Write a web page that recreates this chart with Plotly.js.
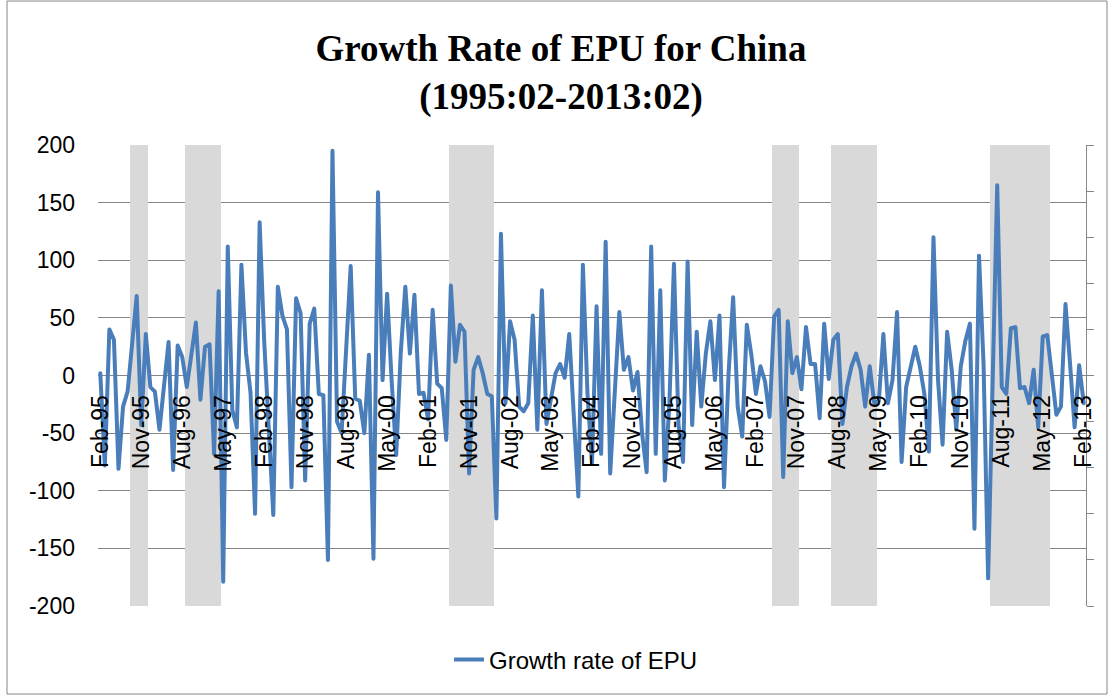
<!DOCTYPE html>
<html><head><meta charset="utf-8">
<script src="https://cdn.plot.ly/plotly-3.0.1.min.js"></script>
<style>
html,body{margin:0;padding:0;background:#fff;}
#chart{width:1110px;height:697px;}
.scatterlayer .js-line{stroke-linejoin:round;stroke-linecap:round;}
</style></head><body><div id="chart"></div>
<script>
// Monthly growth rate of EPU for China, Feb-1995 .. Feb-2013
const epu1995 = [2, -78, 40, 31, -81, -27, -14, 30, 69, -43, 36];            // Feb-Dec
const epu1996 = [-10, -14, -47, -10, 29, -82, 26, 16, -10, 18, 46, -21];
const epu1997 = [25, 27, -68, 73, -179, 112, -30, -45, 96, 20, -15, -120];
const epu1998 = [133, 30, -40, -121, 77, 52, 40, -97, 67, 54, -91, 45];
const epu1999 = [58, -16, -17, -160, 195, -40, -50, 20, 95, -20, -22, -50];
const epu2000 = [18, -159, 159, -4, 71, -5, -69, 20, 77, 19, 70, -16];
const epu2001 = [-15, -38, 57, -7, -11, -56, 78, 12, 44, 38, -85, 5];
const epu2002 = [16, 2, -16, -18, -124, 123, -24, 47, 31, -27, -31, -24];
const epu2003 = [52, -47, 74, -42, -18, 2, 10, -2, 36, -35, -105, 96];
const epu2004 = [-15, -76, 60, -68, 116, -85, -15, 55, 5, 16, -13, 3];
const epu2005 = [-50, -84, 112, -68, 74, -91, -24, 97, -43, -75, 99, -43];
const epu2006 = [38, -27, 19, 47, -4, 52, -97, 2, 68, -27, -53, 44];
const epu2007 = [18, -16, 8, -5, -36, 51, 57, -88, 47, 2, 16, -12];
const epu2008 = [42, 10, 10, -37, 45, -3, 31, 36, -42, -10, 8, 19];
const epu2009 = [5, -27, 8, -24, -22, 36, -24, -4, 55, -75, -10, 8];
const epu2010 = [25, 8, -16, -66, 120, -4, -60, 38, 5, -47, 8, 30];
const epu2011 = [45, -133, 104, 10, -176, -5, 165, -10, -16, 41, 42, -11];
const epu2012 = [-10, -24, 5, -45, 34, 35, 0, -34, -27, 62, 10, -45];
const epu2013 = [9, -24];                                                      // Jan-Feb

const tickLabels = ['Feb-95','Nov-95','Aug-96','May-97','Feb-98','Nov-98','Aug-99','May-00',
  'Feb-01','Nov-01','Aug-02','May-03','Feb-04','Nov-04','Aug-05','May-06','Feb-07','Nov-07',
  'Aug-08','May-09','Feb-10','Nov-10','Aug-11','May-12','Feb-13'];
const yTickVals = [-200, -150, -100, -50, 0, 50, 100, 150, 200];
const yTickText = ['-200', '-150', '-100', '-50', '0', '50', '100', '150', '200'];

// shaded periods (grey columns on the secondary axis)
const shadeStart = ['Sep-95','Sep-96','Jul-01','Jun-07','Jul-08','Jun-11'];
const shadeEnd   = ['Dec-95','Apr-97','Apr-02','Nov-07','Apr-09','Jun-12'];

const monthNames = ['Jan','Feb','Mar','Apr','May','Jun','Jul','Aug','Sep','Oct','Nov','Dec'];
const growth = [].concat(epu1995, epu1996, epu1997, epu1998, epu1999, epu2000, epu2001, epu2002,
  epu2003, epu2004, epu2005, epu2006, epu2007, epu2008, epu2009, epu2010, epu2011, epu2012, epu2013);

const months = growth.map((_, i) => {
  const m = (1 + i) % 12;               // start at Feb (index 1)
  const y = 1995 + Math.floor((1 + i) / 12);
  return monthNames[m] + '-' + String(y % 100).padStart(2, '0');
});
const flags = months.map(() => 0);
shadeStart.forEach((s, k) => {
  const a = months.indexOf(s), b = months.indexOf(shadeEnd[k]);
  for (let i = a; i <= b; i++) flags[i] = 1;
});

const grey = '#868686';
const traces = [
  { type: 'bar', x: months, y: flags, yaxis: 'y', xaxis: 'x',
    marker: { color: '#d9d9d9', line: { width: 0 } }, showlegend: false, hoverinfo: 'skip' },
  { type: 'scatter', mode: 'lines', x: months, y: growth, yaxis: 'y2', xaxis: 'x',
    name: 'Growth rate of EPU', line: { color: '#4a7ebb', width: 4 } }
];

const L = 98, R = 1086, T = 145, B = 606;
const pw = R - L, ph = B - T;
const layout = {
  width: 1110, height: 697,
  margin: { l: L, r: 1110 - R, t: T, b: 697 - B, pad: 0 },
  paper_bgcolor: '#fff', plot_bgcolor: '#fff',
  font: { family: 'Liberation Sans, Arial, sans-serif', color: '#000', size: 23 },
  title: { text: '<b>Growth Rate of EPU for China<br>(1995:02-2013:02)</b>',
    font: { family: 'Liberation Serif, Times New Roman, serif', size: 37, color: '#000' },
    x: 0.5054, xref: 'container', xanchor: 'center', y: 0.913, yref: 'container', yanchor: 'top' },
  bargap: 0,
  xaxis: { type: 'category', categoryorder: 'array', categoryarray: months,
    range: [-0.5, months.length - 0.5], anchor: 'free', position: 0.5,
    tickmode: 'array', tickvals: tickLabels, ticktext: tickLabels, tickangle: -90,
    ticks: '', showgrid: false, showline: false, zeroline: false,
    ticklabelstandoff: 14, tickfont: { size: 23 }, fixedrange: true },
  yaxis: { range: [0, 1], dtick: 0.1, side: 'right', anchor: 'x',
    showticklabels: false, ticks: 'outside', ticklen: 7, tickcolor: grey, tickwidth: 1,
    showline: true, linecolor: grey, linewidth: 1, showgrid: false, zeroline: false, fixedrange: true },
  yaxis2: { overlaying: 'y', side: 'left', anchor: 'x', range: [-200, 200],
    tickmode: 'array', tickvals: yTickVals, ticktext: yTickText,
    showgrid: true, gridcolor: grey, gridwidth: 1, zeroline: true, zerolinecolor: grey, zerolinewidth: 1,
    showline: false, ticks: '', ticklabelstandoff: 22, tickfont: { size: 23 }, fixedrange: true },
  showlegend: true,
  legend: { orientation: 'h', x: (449 - L) / pw, xanchor: 'left', y: (B - 660) / ph, yanchor: 'middle',
    font: { size: 24 }, bgcolor: 'rgba(0,0,0,0)' },
  shapes: [{ type: 'rect', xref: 'paper', yref: 'paper',
    x0: (7 - L) / pw, x1: (1107 - L) / pw, y0: (B - 694) / ph, y1: (B - 1) / ph,
    line: { color: grey, width: 1 }, fillcolor: 'rgba(0,0,0,0)' }]
};

Plotly.newPlot('chart', traces, layout, { displayModeBar: false, staticPlot: true });
</script></body></html>
